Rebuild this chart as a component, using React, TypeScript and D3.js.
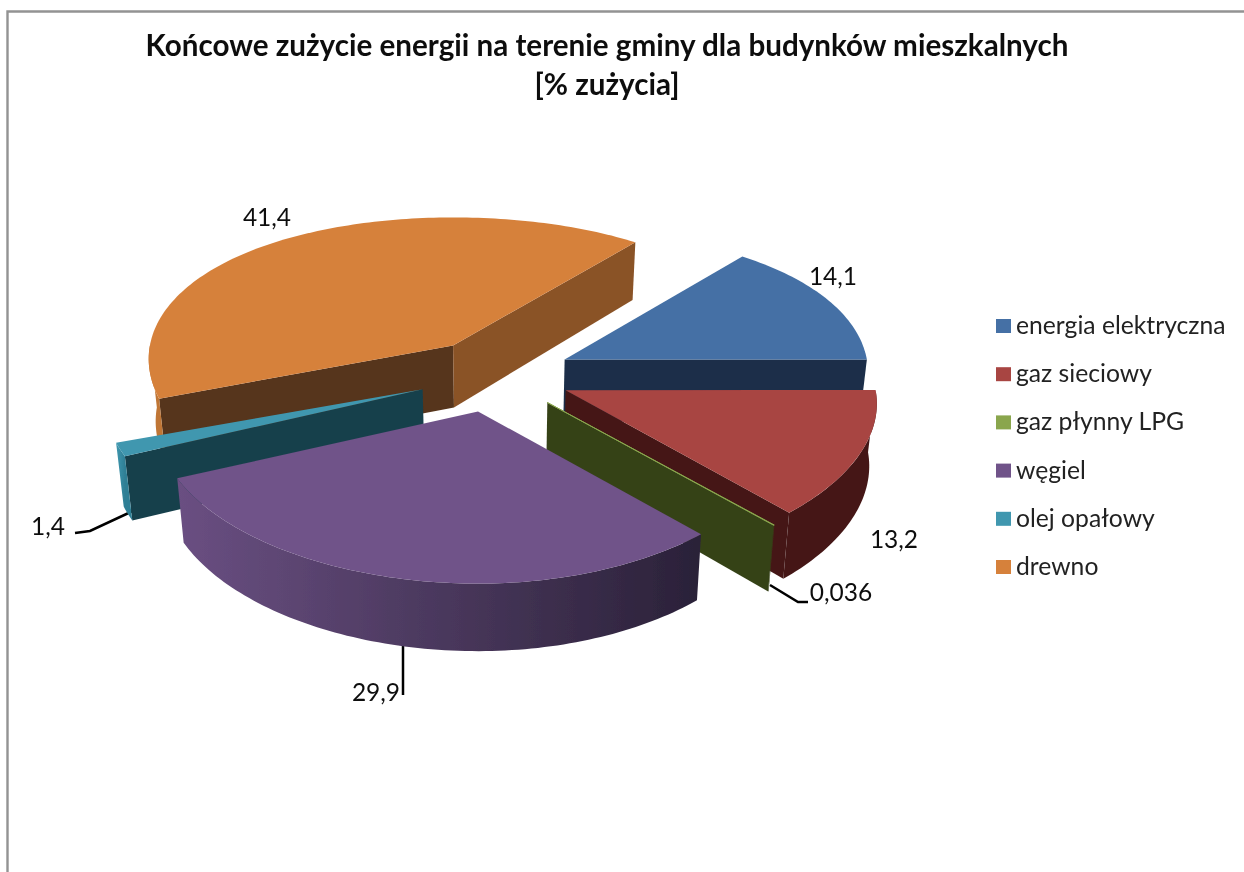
import React from "react";
import * as d3 from "d3";

const categories = ["energia elektryczna", "gaz sieciowy", "gaz płynny LPG", "węgiel", "olej opałowy", "drewno"];
const values = [14.1, 13.2, 0.036, 29.9, 1.4, 41.4];
const valueLabels = ["14,1", "13,2", "0,036", "29,9", "1,4", "41,4"];
const titleLines = ["Końcowe zużycie energii na terenie gminy dla budynków  mieszkalnych", "[% zużycia]"];
const topColors = ["#4470a5", "#a84442", "#8aa64e", "#705389", "#3f97af", "#d6813b"];
const startFaceColors = ["#1a2f48", "#451917", "#364219", "#2a2138", "#19404c", "#57341a"];
const endFaceColors = ["#1a2f48", "#451917", "#364219", "#2a2138", "#19404c", "#8a5227"];
const wallLeftColors = ["#3a6090", "#451917", "#364219", "#6a4f82", "#3f97af", "#c07636"];
const wallRightColors = ["#1a2f48", "#451917", "#364219", "#2a2138", "#2f7f95", "#c07636"];
const labelPositions: [number, number][] = [[833, 285], [894, 548], [841, 601], [376, 701], [48, 535], [267, 226]];
const leaderLines: ([number, number][] | null)[] = [
  null,
  null,
  [[770, 585], [798, 602], [808, 602]],
  [[403, 640], [403, 695]],
  [[135, 510], [90, 531], [75, 533]],
  null,
];
// the photographed 3D pie is not a perfect projection: small per-slice corrections
const sliceDx = [-1, -1, -1, -4, -4, 0];
const sliceLeftScale = [1, 1, 1, 1.03, 1.02, 0.978];
const sliceRightScale = [0.975, 1, 1.015, 1, 1, 1];

const W = 1244, H = 872;
const FIRST_ANGLE = (39.2 * Math.PI) / 180;
const CX = 497, CY = 375.4, R = 310, EXPLODE = 76, K = 0.484, PX = 0.09, PY = 0.147, DEPTH = 62;

function project(i: number, theta: number, r: number, mid: number, level: number): [number, number] {
  const sn = Math.sin(theta);
  const X = sn * r * (sn < 0 ? sliceLeftScale[i] : sliceRightScale[i]);
  const Z = -Math.cos(theta) * r;
  const sx = 1 + (PX * Z) / R;
  const sy = 1 + (PY * Z) / R;
  const ox = Math.sin(mid) * EXPLODE + sliceDx[i];
  const oz = -Math.cos(mid) * EXPLODE;
  return [CX + (ox + X * sx) * (1 - 0.02 * level), CY + K * (oz + Z * sy) + DEPTH * level * sx];
}

const pieGen = d3.pie<number>().sort(null).startAngle(FIRST_ANGLE).endAngle(FIRST_ANGLE + 2 * Math.PI);
const arcs = pieGen(values);
const line = d3.line<[number, number]>();

function arcPoints(s: number, a0: number, a1: number, mid: number, level: number): [number, number][] {
  const n = Math.max(2, Math.ceil(Math.abs(a1 - a0) / 0.02));
  return d3.range(n + 1).map((i) => project(s, a0 + ((a1 - a0) * i) / n, R, mid, level));
}

function facePath(s: number, theta: number, mid: number) {
  return line([
    project(s, theta, 0, mid, 0),
    project(s, theta, R, mid, 0),
    project(s, theta, R, mid, 1),
    project(s, theta, 0, mid, 1),
  ])! + "Z";
}

// near half of the rim: angles whose point is on the viewer's side (between 90° and 270° from the top)
function wallRange(a0: number, a1: number): [number, number] | null {
  const segs: [number, number][] = [[Math.PI / 2, 1.5 * Math.PI], [2.5 * Math.PI, 3.5 * Math.PI]];
  for (const [lo, hi] of segs) {
    const s = Math.max(a0, lo), e = Math.min(a1, hi);
    if (e > s) return [s, e];
  }
  return null;
}

const drawOrder = [5, 0, 4, 1, 2, 3];

export default function App() {
  const font = "Lato, 'Open Sans', sans-serif";
  const legendY = d3.scalePoint<string>().domain(categories).range([326, 567]);
  return (
    <svg width={W} height={H} viewBox={`0 0 ${W} ${H}`} style={{ position: "absolute", left: 0, top: 0, display: "block", background: "#fff" }}>
      <defs>
        <filter id="soft" x="-5%" y="-5%" width="110%" height="110%">
          <feGaussianBlur stdDeviation="0.45" />
        </filter>
        {arcs.map((a, i) => {
          const mid = (a.startAngle + a.endAngle) / 2;
          const range = wallRange(a.startAngle, a.endAngle);
          if (!range) return null;
          const pts = arcPoints(i, range[0], range[1], mid, 0);
          const xs = d3.extent(pts, (p) => p[0]) as [number, number];
          return (
            <linearGradient key={i} id={`wall${i}`} gradientUnits="userSpaceOnUse" x1={xs[0]} x2={xs[1]} y1={0} y2={0}>
              <stop offset="0" stopColor={wallLeftColors[i]} />
              <stop offset="1" stopColor={wallRightColors[i]} />
            </linearGradient>
          );
        })}
      </defs>
      <path d={`M7.5,872V11.5H1244`} fill="none" stroke="#939393" strokeWidth={2.4} />
      <g filter="url(#soft)">
        {leaderLines.map((l, i) =>
          l ? <path key={i} d={line(l)!} fill="none" stroke="#000" strokeWidth={2.5} /> : null
        )}
        {drawOrder.map((i) => {
          const a = arcs[i];
          const mid = (a.startAngle + a.endAngle) / 2;
          const faces: React.ReactNode[] = [];
          // start face's outward normal points counter-clockwise, end face's clockwise
          if (Math.cos(a.startAngle - Math.PI / 2) < 0) {
            faces.push(<path key="s" d={facePath(i, a.startAngle, mid)} fill={startFaceColors[i]} />);
          }
          if (Math.cos(a.endAngle + Math.PI / 2) < 0) {
            faces.push(<path key="e" d={facePath(i, a.endAngle, mid)} fill={endFaceColors[i]} />);
          }
          const range = wallRange(a.startAngle, a.endAngle);
          const wall = range
            ? line([...arcPoints(i, range[0], range[1], mid, 0), ...arcPoints(i, range[1], range[0], mid, 1)])! + "Z"
            : null;
          const top = line([project(i, 0, 0, mid, 0), ...arcPoints(i, a.startAngle, a.endAngle, mid, 0)])! + "Z";
          return (
            <g key={i}>
              {faces}
              {wall && <path d={wall} fill={`url(#wall${i})`} />}
              <path d={top} fill={topColors[i]} stroke={topColors[i]} strokeWidth={values[i] < 0.1 ? 1 : 0} />
            </g>
          );
        })}
        {titleLines.map((t, i) => (
          <text key={i} x={607} y={56 + i * 39} textAnchor="middle" fontFamily={font} fontWeight={700} fontSize={29.6} fill="#111">
            {t}
          </text>
        ))}
        {valueLabels.map((t, i) => (
          <text key={i} x={labelPositions[i][0]} y={labelPositions[i][1]} textAnchor="middle" fontFamily={font} fontSize={24.5} fill="#111">
            {t}
          </text>
        ))}
        {categories.map((c, i) => {
          const y = legendY(c)!;
          return (
            <g key={c}>
              <rect x={996} y={y - 7} width={15} height={14} fill={topColors[i]} />
              <text x={1016} y={y + 8} fontFamily={font} fontSize={24.7} fill="#222">
                {c}
              </text>
            </g>
          );
        })}
      </g>
    </svg>
  );
}
